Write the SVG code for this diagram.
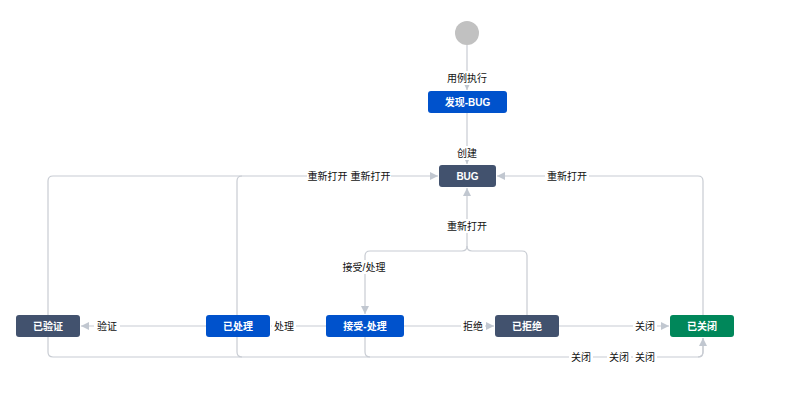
<svg xmlns="http://www.w3.org/2000/svg" width="800" height="412" viewBox="0 0 800 412">
<defs>
<marker id="ah" viewBox="0 0 10 10" refX="10" refY="5" markerWidth="8" markerHeight="8" markerUnits="userSpaceOnUse" orient="auto">
<path d="M0,0 L10,5 L0,10 z" fill="#c1c7d0"/>
</marker>
<style>
.node rect{rx:3;ry:3}
.blue{fill:#0052cc}
.dark{fill:#42526e}
.green{fill:#00875a}
.nt{font-family:"Liberation Sans","Noto Sans CJK SC",sans-serif;font-size:10px;font-weight:bold;fill:#fff;text-anchor:middle;dominant-baseline:central}
.edge{fill:none;stroke:#c8ccd3;stroke-width:1.2}
.arr{marker-end:url(#ah)}
.lb{font-family:"Liberation Sans","Noto Sans CJK SC",sans-serif;font-size:10px;fill:#111;text-anchor:middle;dominant-baseline:central}
.bg{fill:#fff}
</style>
</defs>
<rect width="800" height="412" fill="#fff"/>
<g id="connectors">
<path class="edge arr" d="M467,45 V90"/>
<path class="edge arr" d="M467,113 V164"/>
<path class="edge arr" d="M48,315 V181 Q48,176 53,176 H438"/>
<path class="edge" d="M237,315 V181 Q237,176 242,176"/>
<path class="edge arr" d="M703,315 V181 Q703,176 698,176 H497"/>
<path class="edge arr" d="M527,315 V256 Q527,251 522,251 H472 Q467,251 467,246 V188"/>
<path class="edge arr" d="M467,246 Q467,251 462,251 H370 Q365,251 365,256 V314"/>
<path class="edge arr" d="M206,326 H81"/>
<path class="edge" d="M326,326 H271"/>
<path class="edge arr" d="M404,326 H494"/>
<path class="edge arr" d="M559,326 H669"/>
<path class="edge" d="M48,337 V352 Q48,357 53,357 H698 Q703,357 703,352 V338"/>
<path class="edge" d="M237,337 V352 Q237,357 242,357"/>
<path class="edge" d="M365,337 V352 Q365,357 370,357"/>
<path class="edge arr" d="M698,357 Q703,357 703,352 V338"/>
</g>
<g id="labels">
<rect class="bg" x="446" y="71" width="42" height="14"/><text class="lb" x="467" y="78">用例执行</text>
<rect class="bg" x="455" y="146" width="24" height="14"/><text class="lb" x="467" y="153">创建</text>
<rect class="bg" x="307" y="169" width="84" height="14"/><text class="lb" x="349" y="176">重新打开 重新打开</text>
<rect class="bg" x="545" y="169" width="44" height="14"/><text class="lb" x="567" y="176">重新打开</text>
<rect class="bg" x="445" y="219" width="44" height="14"/><text class="lb" x="467" y="226">重新打开</text>
<rect class="bg" x="341" y="260" width="46" height="14"/><text class="lb" x="364" y="267">接受/处理</text>
<rect class="bg" x="94" y="319" width="26" height="14"/><text class="lb" x="107" y="326">验证</text>
<rect class="bg" x="272" y="319" width="24" height="14"/><text class="lb" x="284" y="326">处理</text>
<rect class="bg" x="461" y="319" width="24" height="14"/><text class="lb" x="473" y="326">拒绝</text>
<rect class="bg" x="633" y="319" width="24" height="14"/><text class="lb" x="645" y="326">关闭</text>
<rect class="bg" x="569" y="350" width="24" height="14"/><text class="lb" x="581" y="357">关闭</text>
<rect class="bg" x="607" y="350" width="24" height="14"/><text class="lb" x="619" y="357">关闭</text>
<rect class="bg" x="633" y="350" width="24" height="14"/><text class="lb" x="645" y="357">关闭</text>
</g>
<g id="start"><circle cx="467" cy="33" r="12" fill="#c1c1c1"/></g>
<g id="n-found" class="node"><rect class="blue" x="428" y="91" width="79" height="22"/><text class="nt" x="467.5" y="102">发现-BUG</text></g>
<g id="n-bug" class="node"><rect class="dark" x="439" y="165" width="57" height="22"/><text class="nt" x="467.5" y="176">BUG</text></g>
<g id="n-verified" class="node"><rect class="dark" x="16" y="315" width="64" height="22"/><text class="nt" x="48" y="326">已验证</text></g>
<g id="n-processed" class="node"><rect class="blue" x="206" y="315" width="64" height="22"/><text class="nt" x="238" y="326">已处理</text></g>
<g id="n-accept" class="node"><rect class="blue" x="326" y="315" width="78" height="22"/><text class="nt" x="365" y="326">接受-处理</text></g>
<g id="n-rejected" class="node"><rect class="dark" x="495" y="315" width="64" height="22"/><text class="nt" x="527" y="326">已拒绝</text></g>
<g id="n-closed" class="node"><rect class="green" x="670" y="315" width="64" height="22"/><text class="nt" x="702" y="326">已关闭</text></g>
</svg>
